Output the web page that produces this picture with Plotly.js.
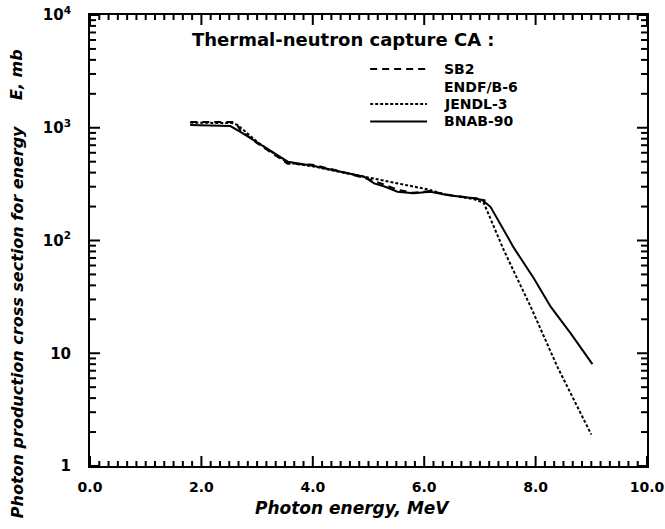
<!DOCTYPE html>
<html>
<head>
<meta charset="utf-8">
<script src="https://cdn.plot.ly/plotly-3.0.1.min.js"></script>
<style>html,body{margin:0;padding:0;background:#fff;}#chart{width:665px;height:529px;}</style>
</head>
<body>
<div id="chart"></div>
<script>
// Photon energy (MeV) and cross sections (mb)
const sb2X   = [1.80, 2.55, 2.62, 2.70, 3.00, 3.55, 4.00, 4.50, 5.00, 5.30, 5.55, 5.80, 6.10, 6.50, 7.00, 7.10];
const sb2Y   = [1125, 1125, 1100, 950, 730, 480, 470, 410, 350, 310, 280, 265, 275, 250, 235, 225];

const jendlX = [1.80, 2.55, 2.65, 3.00, 3.55, 4.00, 4.50, 4.95, 5.20, 5.50, 5.80, 6.05, 6.40, 6.90, 7.07, 7.43, 7.67, 7.91, 8.39, 9.00];
const jendlY = [1110, 1100, 1060, 750, 490, 455, 405, 365, 345, 320, 300, 285, 255, 232, 215, 82, 46, 26, 7.6, 1.9];

const bnabX  = [1.80, 2.52, 2.70, 3.00, 3.30, 3.55, 4.00, 4.50, 4.92, 5.10, 5.30, 5.52, 5.81, 6.11, 6.41, 6.89, 7.04, 7.19, 7.61, 7.97, 8.27, 8.63, 9.02];
const bnabY  = [1057, 1036, 920, 740, 600, 500, 460, 408, 368, 321, 300, 271, 262, 271, 253, 237, 229, 199, 86, 46, 25.9, 15.0, 8.0];

const seriesNames = ["SB2", "ENDF/B-6", "JENDL-3", "BNAB-90"];
const seriesDash  = ["7px,5px", null, "3px,2px", "solid"];
const xTickVals = [0, 2, 4, 6, 8, 10];
const xTickText = ["0.0", "2.0", "4.0", "6.0", "8.0", "10.0"];
const yTickVals = [1, 10, 100, 1000, 10000];
const yTickText = ["1", "10", "10<sup>2</sup>", "10<sup>3</sup>", "10<sup>4</sup>"];

const FONT = "DejaVu Sans, sans-serif";
const X_RANGE = [0, 10], Y_RANGE_LOG = [0, 4];
const PLOT_W = 557, PLOT_H = 451;

const traces = [
  {x: sb2X, y: sb2Y, name: seriesNames[0], mode: "lines",
   line: {color: "#000", width: 2, dash: seriesDash[0]}},
  {x: jendlX, y: jendlY, name: seriesNames[2], mode: "lines",
   line: {color: "#000", width: 2, dash: seriesDash[2]}},
  {x: bnabX, y: bnabY, name: seriesNames[3], mode: "lines",
   line: {color: "#000", width: 2, dash: seriesDash[3]}}
];

// inward ticks on all four sides, placed from the axis tick values
const shapes = [];
const xFrac = v => (v - X_RANGE[0]) / (X_RANGE[1] - X_RANGE[0]);
const yFrac = v => (Math.log10(v) - Y_RANGE_LOG[0]) / (Y_RANGE_LOG[1] - Y_RANGE_LOG[0]);
function xTick(v, len) {
  const f = xFrac(v), h = len / PLOT_H;
  [[0, h], [1, 1 - h]].forEach(([a, b]) => shapes.push({type: "line", xref: "paper", yref: "paper",
    x0: f, x1: f, y0: a, y1: b, line: {color: "#000", width: 2}}));
}
function yTick(v, len) {
  const f = yFrac(v), w = len / PLOT_W;
  [[0, w], [1, 1 - w]].forEach(([a, b]) => shapes.push({type: "line", xref: "paper", yref: "paper",
    x0: a, x1: b, y0: f, y1: f, line: {color: "#000", width: 2}}));
}
xTickVals.forEach(v => xTick(v, 10));
for (let k = 0; k <= 60; k++) { if (k % 12 !== 0) xTick(k / 6, 5); }
yTickVals.forEach(v => yTick(v, 10));
for (let d = 1; d < 10000; d *= 10) { for (let m = 2; m <= 9; m++) yTick(m * d, 6); }

// legend drawn as text + sample lines (rows tightly spaced as in the original)
const legRowPx = [69, 86.5, 104, 121.5];
const legRowY = legRowPx.map(p => (466 - p) / PLOT_H);
const legTextX = 0.632, legLineX0 = 0.503, legLineX1 = 0.605;
const annotations = [
  {text: "Thermal-neutron capture CA :", xref: "paper", yref: "paper",
   x: 0.455, y: 0.945, showarrow: false, xanchor: "center", yanchor: "middle",
   font: {family: FONT, size: 18, weight: "bold"}},
  {text: "Photon production cross section for energy",
   xref: "paper", yref: "paper", x: -0.131, y: 0.319, textangle: -90,
   showarrow: false, xanchor: "center", yanchor: "middle",
   font: {family: FONT, size: 16, weight: "bold", style: "italic"}},
  {text: "E, mb",
   xref: "paper", yref: "paper", x: -0.131, y: 0.867, textangle: -90,
   showarrow: false, xanchor: "center", yanchor: "middle",
   font: {family: FONT, size: 16, weight: "bold", style: "italic"}},
  {text: "Photon energy, MeV", xref: "paper", yref: "paper",
   x: 0.471, y: -0.093, showarrow: false, xanchor: "center", yanchor: "middle",
   font: {family: FONT, size: 17, weight: "bold", style: "italic"}}
];
seriesNames.forEach((nm, i) => {
  annotations.push({text: nm, xref: "paper", yref: "paper", x: legTextX, y: legRowY[i],
    xanchor: "left", yanchor: "middle", showarrow: false,
    font: {family: FONT, size: 14, weight: "bold"}});
  if (seriesDash[i]) {
    shapes.push({type: "line", xref: "paper", yref: "paper",
      x0: legLineX0, x1: legLineX1, y0: legRowY[i], y1: legRowY[i],
      line: {color: "#000", width: 2, dash: seriesDash[i]}});
  }
});

const layout = {
  width: 665, height: 529,
  margin: {l: 90, r: 18, t: 15, b: 63},
  paper_bgcolor: "#fff", plot_bgcolor: "#fff",
  font: {family: FONT, color: "#000", size: 14},
  showlegend: false,
  xaxis: {
    range: X_RANGE, tickmode: "array", tickvals: xTickVals, ticktext: xTickText,
    ticks: "outside", ticklen: 7, tickcolor: "rgba(0,0,0,0)",
    showline: true, linewidth: 2, linecolor: "#000", mirror: true,
    showgrid: false, zeroline: false,
    tickfont: {family: FONT, size: 14, weight: "bold"}
  },
  yaxis: {
    type: "log", range: Y_RANGE_LOG, tickmode: "array", tickvals: yTickVals, ticktext: yTickText,
    ticks: "outside", ticklen: 14, tickcolor: "rgba(0,0,0,0)",
    showline: true, linewidth: 2, linecolor: "#000", mirror: true,
    showgrid: false, zeroline: false,
    tickfont: {family: FONT, size: 15, weight: "bold"}
  },
  annotations: annotations,
  shapes: shapes
};

Plotly.newPlot("chart", traces, layout, {displayModeBar: false, staticPlot: true});
</script>
</body>
</html>
